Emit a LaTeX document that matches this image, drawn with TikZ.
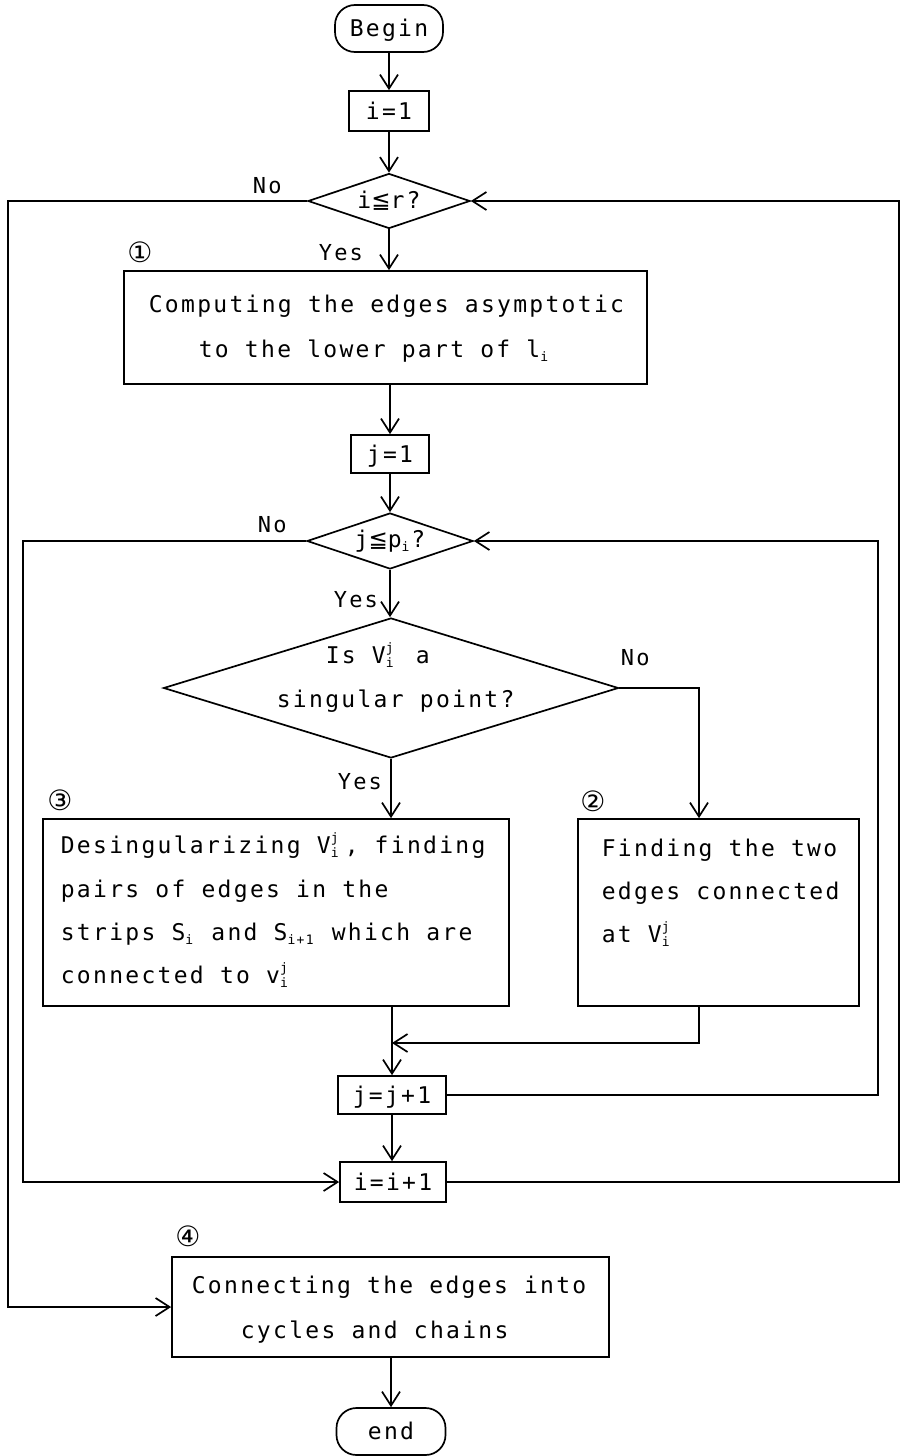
\documentclass[tikz,border=0pt]{standalone}
\usepackage{fontspec}
\setmainfont[LetterSpace=10]{DejaVu Sans Mono}
\newfontfamily\symf{DejaVu Sans}
\usetikzlibrary{shapes.geometric,arrows.meta}
\newcommand\LeqQ{{\symf ≦}}
\newcommand\Sub[1]{\raisebox{-4pt}{\fontsize{13}{13}\selectfont #1}\hspace{2pt}}
\newcommand\SupSub[2]{\makebox[14pt][l]{\raisebox{-4pt}{\fontsize{13}{12}\selectfont\shortstack[l]{#1\\#2}}}}
\newcommand\Top{\rule{0pt}{22pt}}
\begin{document}
\begin{tikzpicture}[x=1pt,y=-1pt,line width=1.7pt,
  every node/.style={font=\fontsize{23}{44}\selectfont},
  box/.style={draw,rectangle,inner sep=0pt},
  small/.style={draw,rectangle,inner sep=0pt,text height=16pt,text depth=0pt},
  term/.style={draw,rectangle,rounded corners=20pt,minimum width=108pt,minimum height=47pt,inner sep=0pt,text height=16pt,text depth=0pt},
  dia/.style={draw,diamond,inner sep=0pt},
  arr/.style={-{Straight Barb[length=14pt,width=18pt]}},
  lbl/.style={anchor=base west,inner sep=0pt,font=\fontsize{22}{22}\selectfont},
  para/.style={anchor=north west,inner sep=0pt,align=left},
  num/.style={inner sep=0pt,font=\symf\fontsize{28}{28}\selectfont}]
\useasboundingbox (0,0) rectangle (901,1456);
% named coordinates for connector corners
\coordinate (xL) at (8,0);
\coordinate (xL2) at (23,0);
\coordinate (xR) at (899,0);
\coordinate (xR2) at (878,0);
\coordinate (c2) at (699,0);
\coordinate (mrg) at (0,1043);
% nodes
\node[term] (begin) at (389,28.5) {Begin};
\node[small,minimum width=80pt,minimum height=40pt] (i1) at (389,111) {i=1};
\node[dia,minimum width=162pt,minimum height=55pt,aspect=2.95] (di) at (389,201) {i\LeqQ r?};
\node[box,minimum width=523pt,minimum height=113pt] (b1) at (385.5,327.5) {};
\node[para,font=\fontsize{23}{45}\selectfont] (t1) at (148,290) {\Top Computing the edges asymptotic\\\hspace*{50pt}to the lower part of l\Sub{i}};
\node[small,minimum width=78pt,minimum height=38pt] (j1) at (390,454) {j=1};
\node[dia,minimum width=166pt,minimum height=56pt,aspect=2.96] (dj) at (390,541) {j\LeqQ p\Sub{i}?};
\node[dia,minimum width=455pt,minimum height=140pt] (ds) at (391,688) {};
\node[para,font=\fontsize{23}{44}\selectfont] (tds) at (276,641) {\Top\hspace*{49pt}Is V\SupSub{j}{i} a\\singular point?};
\node[box,minimum width=466pt,minimum height=187pt] (b3) at (276,912.5) {};
\node[para,font=\fontsize{23}{43.3}\selectfont] (t3) at (60,831) {\Top Desingularizing V\SupSub{j}{i}, finding\\pairs of edges in the\\strips S\Sub{i} and S\Sub{i+1} which are\\connected to v\SupSub{j}{i}};
\node[box,minimum width=281pt,minimum height=187pt] (b2) at (718.5,912.5) {};
\node[para,font=\fontsize{23}{43}\selectfont] (t2) at (601,834) {\Top Finding the two\\edges connected\\at V\SupSub{j}{i}};
\node[small,minimum width=108pt,minimum height=38pt] (jj) at (392,1095) {j=j+1};
\node[small,minimum width=106pt,minimum height=40pt] (ii) at (393,1182) {i=i+1};
\node[box,minimum width=437pt,minimum height=100pt] (b4) at (390.5,1307) {};
\node[para,font=\fontsize{23}{45}\selectfont] (t4) at (191,1271) {\Top Connecting the edges into\\\hspace*{49pt}cycles and chains};
\node[term,minimum width=109pt] (end) at (391,1431.5) {end};
% labels
\node[lbl] (no1) at (252,193) {No};
\node[lbl] (yes1) at (318,260) {Yes};
\node[lbl] (no2) at (257,532) {No};
\node[lbl] (yes2) at (333,607) {Yes};
\node[lbl] (no3) at (620,665) {No};
\node[lbl] (yes3) at (337,789) {Yes};
\node[num] (n1) at (140,252) {①};
\node[num] (n2) at (593,801) {②};
\node[num] (n3) at (60,800) {③};
\node[num] (n4) at (188,1236) {④};
% connectors
\draw[arr] (begin) -- (i1);
\draw[arr] (i1) -- (di);
\draw[arr] (di.south) -- (di.south |- b1.north);
\draw[arr] (b1.south -| j1) -- (j1);
\draw[arr] (j1) -- (dj);
\draw[arr] (dj.south) -- (dj.south |- ds.north);
\draw[arr] (ds.south) -- (ds.south |- b3.north);
\draw[arr] (ds.east) -- (c2 |- ds.east) -- (c2 |- b2.north);
\draw (jj.north |- b3.south) -- (jj.north |- mrg);
\draw[arr] (b2.south -| c2) -- (c2 |- mrg) -- (jj.north |- mrg);
\draw[arr] (jj.north |- mrg) -- (jj.north);
\draw[arr] (jj.east) -- (xR2 |- jj.east) -- (xR2 |- dj.east) -- (dj.east);
\draw[arr] (jj.south) -- (jj.south |- ii.north);
\draw[arr] (ii.east) -- (xR |- ii.east) -- (xR |- di.east) -- (di.east);
\draw[arr] (dj.west) -- (xL2 |- dj.west) -- (xL2 |- ii.west) -- (ii.west);
\draw[arr] (di.west) -- (xL |- di.west) -- (xL |- b4.west) -- (b4.west);
\draw[arr] (b4.south -| end) -- (end);
\end{tikzpicture}
\end{document}
